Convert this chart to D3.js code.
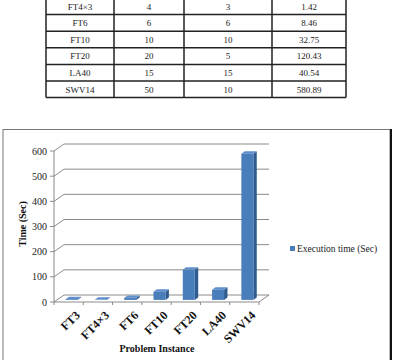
<!DOCTYPE html>
<html>
<head>
<meta charset="utf-8">
<script src="https://cdn.jsdelivr.net/npm/d3@7"></script>
<style>
  body { margin: 0; background: #fff; }
  svg { display: block; font-family: "Liberation Serif", "Times New Roman", serif; }
  .cell { font-size: 9px; fill: #222; }
  .ytick { font-size: 10px; fill: #222; }
  .xtick { font-size: 12px; font-weight: bold; fill: #111; }
  .title { font-size: 10px; font-weight: bold; fill: #111; }
  .legend { font-size: 9.5px; fill: #222; }
</style>
</head>
<body>
<svg id="chart" width="396" height="360"></svg>
<script>
// table rows visible in the picture
var tblNames = ["FT4\u00d73", "FT6", "FT10", "FT20", "LA40", "SWV14"];
var tblJobs = [4, 6, 10, 20, 15, 50];
var tblMachines = [3, 6, 10, 5, 15, 10];
var tblTimes = ["1.42", "8.46", "32.75", "120.43", "40.54", "580.89"];

// chart series
var instances = ["FT3", "FT4\u00d73", "FT6", "FT10", "FT20", "LA40", "SWV14"];
var execTime = [3, 1.42, 8.46, 32.75, 120.43, 40.54, 580.89];
var yTicks = [0, 100, 200, 300, 400, 500, 600];

var svg = d3.select("#chart");

// ---- table ----
var colEdges = [46, 114, 184, 272, 346];
var rowTop = -2, rowH = 16.6;
var tbl = svg.append("g");
var rows = tblNames.map(function(n, i) { return [n, tblJobs[i], tblMachines[i], tblTimes[i]]; });

rows.forEach(function(r, i) {
  var y0 = rowTop + i * rowH;
  r.forEach(function(v, j) {
    tbl.append("text")
      .attr("class", "cell")
      .attr("x", (colEdges[j] + colEdges[j + 1]) / 2)
      .attr("y", y0 + rowH / 2 + 3.2)
      .attr("text-anchor", "middle")
      .text(v);
  });
});
for (var i = 0; i <= rows.length; i++) {
  tbl.append("line")
    .attr("x1", colEdges[0]).attr("x2", colEdges[4])
    .attr("y1", rowTop + i * rowH).attr("y2", rowTop + i * rowH)
    .attr("stroke", "#222").attr("stroke-width", 1.5);
}
colEdges.forEach(function(x) {
  tbl.append("line")
    .attr("x1", x).attr("x2", x)
    .attr("y1", rowTop).attr("y2", rowTop + rows.length * rowH)
    .attr("stroke", "#222").attr("stroke-width", 1.5);
});

// ---- chart frame ----
svg.append("rect")
  .attr("x", 3).attr("y", 129.5).attr("width", 387).attr("height", 240)
  .attr("fill", "none").attr("stroke", "#777").attr("stroke-width", 1);
svg.append("line")
  .attr("x1", 391).attr("x2", 391).attr("y1", 129).attr("y2", 360)
  .attr("stroke", "#111").attr("stroke-width", 2);

// ---- 3D column chart ----
var depth = [10, -7];
var x = d3.scaleBand().domain(instances).range([54, 259])
  .paddingInner(0.59).paddingOuter(0.295);
var y = d3.scaleLinear().domain([0, 600]).range([302, 151]);
var grid = "#8a8a8a";

var g = svg.append("g");

// back wall gridlines with side diagonals
yTicks.forEach(function(t) {
  var yy = y(t);
  g.append("path")
    .attr("d", "M54," + yy + "L" + (54 + depth[0]) + "," + (yy + depth[1]) + "L" + (259 + depth[0]) + "," + (yy + depth[1]))
    .attr("fill", "none").attr("stroke", grid).attr("stroke-width", 1);
  g.append("line")
    .attr("x1", 50).attr("x2", 54).attr("y1", yy).attr("y2", yy)
    .attr("stroke", grid);
});
// floor front edge and right diagonal
g.append("path")
  .attr("d", "M54," + y(0) + "L259," + y(0) + "L" + (259 + depth[0]) + "," + (y(0) + depth[1]))
  .attr("fill", "none").attr("stroke", grid);
// vertical axis
g.append("line")
  .attr("x1", 54).attr("x2", 54).attr("y1", y(600)).attr("y2", y(0))
  .attr("stroke", grid);
// category ticks
var step = x.step();
d3.range(instances.length + 1).forEach(function(k) {
  var xx = 54 + k * step;
  g.append("line")
    .attr("x1", xx).attr("x2", xx).attr("y1", y(0)).attr("y2", y(0) + 3)
    .attr("stroke", grid);
});

// y labels
g.selectAll(".ytick").data(yTicks).enter().append("text")
  .attr("class", "ytick")
  .attr("x", 47).attr("y", function(d) { return y(d) + 3.5; })
  .attr("text-anchor", "end")
  .text(function(d) { return d; });

// bars
var f0 = 0.3, f1 = 0.64;
var ox = depth[0] * f0, oy = depth[1] * f0;
var bx = depth[0] * (f1 - f0), by = depth[1] * (f1 - f0);
var bw = x.bandwidth();

instances.forEach(function(n, i) {
  var x0 = x(n) + ox, x1 = x0 + bw;
  var yb = y(0) + oy, yt = y(execTime[i]) + oy;
  // side
  g.append("path")
    .attr("d", "M" + x1 + "," + yb + "L" + (x1 + bx) + "," + (yb + by) + "L" + (x1 + bx) + "," + (yt + by) + "L" + x1 + "," + yt + "Z")
    .attr("fill", "#2f5b8f");
  // top
  g.append("path")
    .attr("d", "M" + x0 + "," + yt + "L" + (x0 + bx) + "," + (yt + by) + "L" + (x1 + bx) + "," + (yt + by) + "L" + x1 + "," + yt + "Z")
    .attr("fill", "#5f8fcb");
  // front
  g.append("rect")
    .attr("x", x0).attr("y", yt).attr("width", bw).attr("height", yb - yt)
    .attr("fill", "#4a7ebb");
});

// x labels
g.selectAll(".xtick").data(instances).enter().append("text")
  .attr("class", "xtick")
  .attr("text-anchor", "end")
  .attr("transform", function(d) {
    return "translate(" + (x(d) + bw / 2 + 12) + "," + (y(0) + 14) + ") rotate(-45)";
  })
  .text(function(d) { return d; });

// axis titles
svg.append("text")
  .attr("class", "title")
  .attr("text-anchor", "middle")
  .attr("transform", "translate(26,224) rotate(-90)")
  .text("Time (Sec)");
svg.append("text")
  .attr("class", "title")
  .attr("x", 157).attr("y", 352)
  .attr("text-anchor", "middle")
  .text("Problem Instance");

// legend
svg.append("rect")
  .attr("x", 290).attr("y", 246).attr("width", 5).attr("height", 5)
  .attr("fill", "#4a7ebb");
svg.append("text")
  .attr("class", "legend")
  .attr("x", 297).attr("y", 252)
  .text("Execution time (Sec)");
</script>
</body>
</html>
